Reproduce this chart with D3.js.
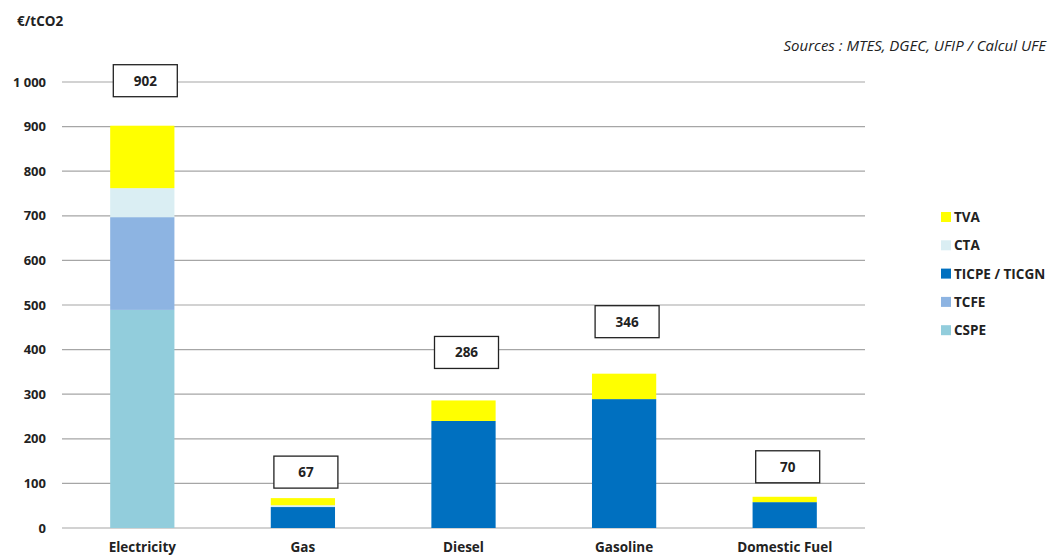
<!DOCTYPE html>
<html>
<head>
<meta charset="utf-8">
<script src="https://cdn.jsdelivr.net/npm/d3@7"></script>
<style>
  body { margin: 0; background: #fff; }
  text { font-family: "Open Sans", "Noto Sans", sans-serif; fill: #222; }
</style>
</head>
<body>
<script>
// categories and series (€/tCO2)
var categories = ["Electricity", "Gas", "Diesel", "Gasoline", "Domestic Fuel"];
var seriesNames = ["CSPE", "TCFE", "TICPE / TICGN", "CTA", "TVA"];
var CSPE  = [489, 0, 0, 0, 0];
var TCFE  = [208, 0, 0, 0, 0];
var TICPE = [0, 47, 240, 289, 58];
var CTA   = [65, 4, 0, 0, 0];
var TVA   = [140, 16, 46, 57, 12];
var totals = [902, 67, 286, 346, 70];
var yTicks = [0, 100, 200, 300, 400, 500, 600, 700, 800, 900, 1000];

var colors = {
  "CSPE": "#92cddc",
  "TCFE": "#8db4e2",
  "TICPE / TICGN": "#0070c0",
  "CTA": "#daeef3",
  "TVA": "#ffff00"
};

var W = 1050, H = 556;
var margin = {top: 82, left: 62, right: 185, bottom: 28};
var width = W - margin.left - margin.right,
    height = H - margin.top - margin.bottom;

// label boxes were placed by hand in the original: pixel gap above each bar
var labelGap = [29, 10, 32, 36, 14];

var svg = d3.select("body").append("svg")
  .attr("width", W)
  .attr("height", H);

var g = svg.append("g")
  .attr("transform", "translate(" + margin.left + "," + margin.top + ")");

var x = d3.scaleBand()
  .domain(categories)
  .range([0, width])
  .paddingInner(0.6)
  .paddingOuter(0.3);

var y = d3.scaleLinear()
  .domain([0, 1000])
  .range([height, 0]);

// gridlines
g.append("g")
  .selectAll("line")
  .data(yTicks)
  .enter().append("line")
    .attr("x1", 0)
    .attr("x2", width)
    .attr("y1", function(d) { return y(d); })
    .attr("y2", function(d) { return y(d); })
    .attr("stroke", "#a6a6a6")
    .attr("stroke-width", 1.2);

// y axis labels
var yAxis = d3.axisLeft(y)
  .tickValues(yTicks)
  .tickSize(0)
  .tickPadding(16)
  .tickFormat(function(d) { return d3.format(",")(d).replace(",", " "); });
g.append("g")
  .call(yAxis)
  .call(function(s) { s.select(".domain").remove(); })
  .selectAll("text")
    .style("font-size", "13px")
    .style("font-weight", "bold")
    .style("fill", "#222");

// x axis labels
var xAxis = d3.axisBottom(x).tickSize(0).tickPadding(14);
g.append("g")
  .attr("transform", "translate(0," + height + ")")
  .call(xAxis)
  .call(function(s) { s.select(".domain").remove(); })
  .selectAll("text")
    .style("font-size", "13.5px")
    .style("font-weight", "bold")
    .style("fill", "#222");

// stacked bars
var table = categories.map(function(c, i) {
  return {cat: c, "CSPE": CSPE[i], "TCFE": TCFE[i], "TICPE / TICGN": TICPE[i], "CTA": CTA[i], "TVA": TVA[i]};
});
var stack = d3.stack().keys(seriesNames)(table);

g.append("g")
  .selectAll("g")
  .data(stack)
  .enter().append("g")
    .attr("fill", function(d) { return colors[d.key]; })
  .selectAll("rect")
  .data(function(d) { return d; })
  .enter().append("rect")
    .attr("x", function(d) { return x(d.data.cat); })
    .attr("width", x.bandwidth())
    .attr("y", function(d) { return y(d[1]); })
    .attr("height", function(d) { return y(d[0]) - y(d[1]); });

// total label boxes
var boxW = 64, boxH = 32;
var lab = g.append("g")
  .selectAll("g")
  .data(totals)
  .enter().append("g")
    .attr("transform", function(d, i) {
      var cx = x(categories[i]) + x.bandwidth() / 2 + 3;
      var by = y(d) - labelGap[i] - boxH;
      return "translate(" + cx + "," + by + ")";
    });
lab.append("rect")
  .attr("x", -boxW / 2)
  .attr("width", boxW)
  .attr("height", boxH)
  .attr("fill", "#fff")
  .attr("stroke", "#222")
  .attr("stroke-width", 1.3);
lab.append("text")
  .attr("y", boxH / 2 + 5)
  .attr("text-anchor", "middle")
  .style("font-size", "13.5px")
  .style("font-weight", "bold")
  .text(function(d) { return d; });

// legend
var legendOrder = ["TVA", "CTA", "TICPE / TICGN", "TCFE", "CSPE"];
var leg = svg.append("g")
  .attr("transform", "translate(941,212)")
  .selectAll("g")
  .data(legendOrder)
  .enter().append("g")
    .attr("transform", function(d, i) { return "translate(0," + (i * 28.3) + ")"; });
leg.append("rect")
  .attr("width", 10)
  .attr("height", 10)
  .attr("fill", function(d) { return colors[d]; });
leg.append("text")
  .attr("x", 13)
  .attr("y", 10)
  .style("font-size", "13.5px")
  .style("font-weight", "bold")
  .text(function(d) { return d; });

// unit and source
svg.append("text")
  .attr("x", 17)
  .attr("y", 26)
  .style("font-size", "13.5px")
  .style("font-weight", "bold")
  .text("€/tCO2");

svg.append("text")
  .attr("x", 1046)
  .attr("y", 51)
  .attr("text-anchor", "end")
  .style("font-size", "15px")
  .style("font-style", "italic")
  .text("Sources : MTES, DGEC, UFIP / Calcul UFE");
</script>
</body>
</html>
